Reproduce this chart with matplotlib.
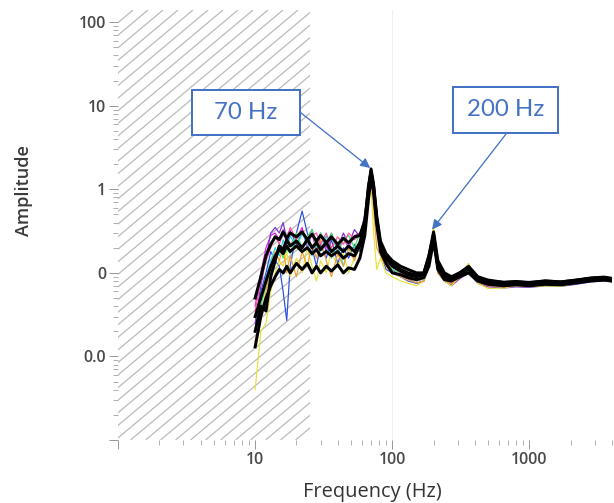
import matplotlib
matplotlib.use("Agg")
import numpy as np
import matplotlib.pyplot as plt
from matplotlib.patches import Rectangle
from matplotlib.collections import LineCollection
from matplotlib.ticker import LogLocator, NullFormatter

# Дані: спектри амплітуди для окремих вимірювань
freq = [10, 11, 12, 13, 14, 15, 16, 17, 18, 20,
        22, 24, 26, 28, 30, 33, 36, 40, 44, 48,
        53, 58, 63, 67, 70, 73, 77, 82, 90, 100,
        115, 130, 150, 170, 185, 200, 215, 240, 270, 310,
        360, 420, 500, 650, 800, 1000, 1300, 1700, 2200, 2800,
        3500, 4000]

magenta = [0.04, 0.10, 0.20, 0.28, 0.30, 0.25, 0.33, 0.22, 0.30, 0.26,
           0.35, 0.20, 0.30, 0.18, 0.28, 0.20, 0.30, 0.18, 0.26, 0.20,
           0.28, 0.30, 0.42, 1.00, 1.50, 1.00, 0.40, 0.22, 0.13, 0.12,
           0.10, 0.09, 0.08, 0.085, 0.13, 0.28, 0.11, 0.085, 0.075, 0.09,
           0.11, 0.08, 0.07, 0.068, 0.07, 0.07, 0.072, 0.07, 0.075, 0.08,
           0.082, 0.08]
purple = [0.025, 0.07, 0.15, 0.30, 0.35, 0.30, 0.40, 0.25, 0.32, 0.22,
          0.30, 0.25, 0.33, 0.22, 0.30, 0.18, 0.27, 0.20, 0.30, 0.22,
          0.33, 0.27, 0.50, 1.20, 1.80, 1.10, 0.45, 0.20, 0.12, 0.11,
          0.09, 0.085, 0.075, 0.08, 0.14, 0.30, 0.10, 0.08, 0.07, 0.085,
          0.10, 0.075, 0.068, 0.066, 0.068, 0.067, 0.07, 0.069, 0.073, 0.078,
          0.08, 0.078]
blue = [0.02, 0.06, 0.10, 0.18, 0.14, 0.12, 0.06, 0.027, 0.12, 0.30,
        0.55, 0.30, 0.20, 0.12, 0.22, 0.15, 0.25, 0.13, 0.20, 0.15,
        0.22, 0.18, 0.30, 0.90, 1.40, 0.90, 0.36, 0.18, 0.11, 0.10,
        0.09, 0.08, 0.075, 0.08, 0.12, 0.25, 0.10, 0.08, 0.072, 0.088,
        0.105, 0.078, 0.071, 0.069, 0.07, 0.068, 0.071, 0.07, 0.074, 0.079,
        0.081, 0.079]
cyan = [0.03, 0.05, 0.09, 0.14, 0.20, 0.16, 0.25, 0.18, 0.28, 0.20,
        0.30, 0.22, 0.16, 0.25, 0.18, 0.28, 0.15, 0.22, 0.12, 0.20,
        0.15, 0.25, 0.35, 0.80, 1.30, 1.05, 0.42, 0.22, 0.14, 0.12,
        0.10, 0.09, 0.082, 0.085, 0.13, 0.27, 0.12, 0.09, 0.08, 0.092,
        0.11, 0.085, 0.076, 0.072, 0.074, 0.072, 0.075, 0.074, 0.078, 0.082,
        0.085, 0.083]
green = [0.03, 0.04, 0.07, 0.10, 0.16, 0.22, 0.15, 0.20, 0.17, 0.30,
         0.20, 0.27, 0.33, 0.20, 0.30, 0.23, 0.30, 0.17, 0.25, 0.28,
         0.20, 0.30, 0.40, 0.85, 1.40, 1.00, 0.38, 0.21, 0.13, 0.11,
         0.10, 0.088, 0.08, 0.085, 0.13, 0.26, 0.11, 0.088, 0.078, 0.09,
         0.105, 0.082, 0.074, 0.07, 0.072, 0.071, 0.074, 0.072, 0.077, 0.081,
         0.083, 0.081]
yellow = [0.004, 0.02, 0.025, 0.06, 0.10, 0.14, 0.12, 0.18, 0.09, 0.15,
          0.10, 0.20, 0.12, 0.08, 0.14, 0.10, 0.18, 0.12, 0.17, 0.10,
          0.15, 0.20, 0.30, 0.70, 1.20, 0.30, 0.11, 0.15, 0.10, 0.09,
          0.08, 0.075, 0.07, 0.08, 0.14, 0.36, 0.10, 0.08, 0.07, 0.09,
          0.13, 0.075, 0.065, 0.066, 0.07, 0.068, 0.07, 0.069, 0.075, 0.08,
          0.084, 0.08]
orange = [0.015, 0.03, 0.06, 0.12, 0.18, 0.14, 0.20, 0.10, 0.16, 0.09,
          0.18, 0.12, 0.22, 0.15, 0.25, 0.14, 0.09, 0.17, 0.12, 0.20,
          0.14, 0.22, 0.30, 0.75, 1.30, 0.60, 0.20, 0.16, 0.12, 0.10,
          0.09, 0.082, 0.076, 0.08, 0.12, 0.25, 0.10, 0.082, 0.074, 0.088,
          0.10, 0.078, 0.07, 0.068, 0.071, 0.069, 0.072, 0.071, 0.076, 0.08,
          0.083, 0.08]
pink = [0.035, 0.08, 0.14, 0.20, 0.28, 0.22, 0.30, 0.25, 0.35, 0.25,
        0.32, 0.24, 0.28, 0.30, 0.22, 0.30, 0.20, 0.27, 0.22, 0.30,
        0.25, 0.28, 0.45, 1.10, 1.60, 1.05, 0.42, 0.22, 0.14, 0.12,
        0.10, 0.09, 0.083, 0.088, 0.13, 0.27, 0.11, 0.087, 0.078, 0.092,
        0.11, 0.083, 0.075, 0.071, 0.073, 0.072, 0.075, 0.073, 0.078, 0.082,
        0.085, 0.082]

black_1 = [0.05, 0.09, 0.16, 0.22, 0.27, 0.25, 0.31, 0.26, 0.30, 0.27,
           0.31, 0.25, 0.29, 0.24, 0.28, 0.23, 0.27, 0.22, 0.26, 0.23,
           0.27, 0.28, 0.42, 1.00, 1.75, 1.15, 0.48, 0.24, 0.17, 0.14,
           0.12, 0.11, 0.10, 0.10, 0.16, 0.31, 0.14, 0.10, 0.09, 0.10,
           0.12, 0.09, 0.082, 0.077, 0.079, 0.076, 0.080, 0.078, 0.082, 0.087,
           0.089, 0.086]
black_2 = [0.03, 0.05, 0.08, 0.12, 0.16, 0.19, 0.17, 0.21, 0.18, 0.21,
           0.18, 0.20, 0.17, 0.19, 0.16, 0.18, 0.16, 0.18, 0.15, 0.17,
           0.16, 0.21, 0.36, 0.90, 1.60, 1.05, 0.42, 0.21, 0.15, 0.12,
           0.105, 0.095, 0.09, 0.095, 0.14, 0.28, 0.12, 0.09, 0.085, 0.095,
           0.11, 0.085, 0.078, 0.074, 0.076, 0.073, 0.077, 0.075, 0.079, 0.083,
           0.085, 0.082]
black_3 = [0.013, 0.03, 0.05, 0.07, 0.09, 0.11, 0.10, 0.12, 0.10, 0.13,
           0.11, 0.13, 0.10, 0.12, 0.10, 0.12, 0.105, 0.125, 0.10, 0.115,
           0.11, 0.15, 0.28, 0.75, 1.35, 0.95, 0.38, 0.18, 0.13, 0.10,
           0.095, 0.088, 0.083, 0.088, 0.12, 0.24, 0.11, 0.083, 0.080, 0.090,
           0.10, 0.080, 0.073, 0.070, 0.072, 0.070, 0.073, 0.072, 0.076, 0.080,
           0.082, 0.080]
black_4 = [0.02, 0.04, 0.035, 0.09, 0.14, 0.21, 0.19, 0.25, 0.21, 0.24,
           0.20, 0.25, 0.20, 0.23, 0.19, 0.23, 0.18, 0.21, 0.18, 0.21,
           0.18, 0.23, 0.38, 1.10, 1.65, 1.10, 0.45, 0.22, 0.16, 0.13,
           0.11, 0.10, 0.094, 0.10, 0.16, 0.29, 0.12, 0.095, 0.088, 0.10,
           0.115, 0.088, 0.080, 0.077, 0.078, 0.077, 0.080, 0.078, 0.082, 0.086,
           0.088, 0.085]

x_ticks = [1, 10, 100, 1000]
x_tick_labels = ["", "10", "100", "1000"]
y_ticks = [0.001, 0.01, 0.1, 1, 10, 100]
y_tick_labels = ["", "0.0", "0", "1", "10", "100"]
shaded_band = (1, 25)   # Гц, заштрихована зона

colored = [
    (magenta, "#e41fe4"), (purple, "#7b2fd0"), (blue, "#2b4de0"),
    (cyan, "#22d6e6"), (green, "#3ee86a"), (yellow, "#e6e23a"),
    (orange, "#f0a030"), (pink, "#ff4fa0"),
]
blacks = [black_1, black_2, black_3, black_4]

# при dpi=72 1 pt = 1 px
DPI = 72
AX_W, AX_H = 494, 430
plt.rcParams["font.family"] = ["Open Sans", "DejaVu Sans"]

fig = plt.figure(figsize=(614 / DPI, 503 / DPI), dpi=DPI)
ax = fig.add_axes([118 / 614, 63 / 503, AX_W / 614, AX_H / 503])
ax.set_xscale("log")
ax.set_yscale("log")
ax.set_xlim(1, 4000)
ax.set_ylim(0.001, 140)

# Заштрихована зона: діагональні лінії з кроком ~15 px
step_px, angle = 15, np.deg2rad(40)
run = AX_H / np.tan(angle)
segs = [[(c / AX_W, 0), ((c + run) / AX_W, 1)] for c in np.arange(-run, AX_W, step_px)]
hatch = LineCollection(segs, transform=ax.transAxes, colors="#bdbdbd", linewidths=1.3, zorder=0)
ax.add_collection(hatch, autolim=False)
clip_rect = Rectangle((shaded_band[0], 0), shaded_band[1] - shaded_band[0], 1,
                      transform=ax.get_xaxis_transform())
hatch.set_clip_path(clip_rect)
ax.axvline(100, color="#eeeeee", lw=1, zorder=0)

for vals, c in colored:
    ax.plot(freq, vals, color=c, lw=1.2, zorder=2)
for vals in blacks:
    ax.plot(freq, vals, color="black", lw=3.0, zorder=3)

ax.set_xlim(1, 4000)
ax.set_ylim(0.001, 140)

for s in ax.spines.values():
    s.set_visible(False)

ax.set_xticks(x_ticks)
ax.set_xticklabels(x_tick_labels)
ax.set_yticks(y_ticks)
ax.set_yticklabels(y_tick_labels)
ax.xaxis.set_minor_locator(LogLocator(base=10, subs=range(2, 10), numticks=20))
ax.yaxis.set_minor_locator(LogLocator(base=10, subs=range(2, 10), numticks=20))
ax.xaxis.set_minor_formatter(NullFormatter())
ax.yaxis.set_minor_formatter(NullFormatter())
ax.tick_params(which="major", length=9, width=1, color="#9a9a9a", pad=3,
               labelsize=16, labelcolor="#4a4a4a")
ax.tick_params(which="minor", length=5, width=1, color="#b0b0b0")
for lbl in ax.get_xticklabels() + ax.get_yticklabels():
    lbl.set_fontweight("semibold")

ax.set_xlabel("Frequency (Hz)", fontsize=20, color="#333333")
ax.set_ylabel("Amplitude", fontsize=18, color="#3a3a3a", fontweight="semibold")
ax.xaxis.set_label_coords(0.514, -0.098)
ax.yaxis.set_label_coords(-0.172, 0.581)

# Підписи піків
box_color = "#4472C4"
boxes = [
    ("70 Hz", (0.150, 0.709, 0.218, 0.105), (0.368, 0.763), (69, 1.8)),
    ("200 Hz", (0.678, 0.714, 0.213, 0.107), (0.787, 0.714), (195, 0.33)),
]
for text, (bx, by, bw, bh), start, target in boxes:
    ax.add_patch(Rectangle((bx, by), bw, bh, transform=ax.transAxes, facecolor="white",
                           edgecolor=box_color, lw=2, zorder=5, clip_on=False))
    ax.text(bx + bw / 2, by + bh / 2, text, transform=ax.transAxes, ha="center", va="center",
            fontsize=24, color=box_color, family=["Lato", "DejaVu Sans"], zorder=6)
    ax.annotate("", xy=target, xycoords="data", xytext=start, textcoords="axes fraction",
                arrowprops=dict(arrowstyle="-|>", color=box_color, lw=1.3, mutation_scale=20,
                                shrinkA=0, shrinkB=0), zorder=6)

fig.savefig("out.png", dpi=DPI)
